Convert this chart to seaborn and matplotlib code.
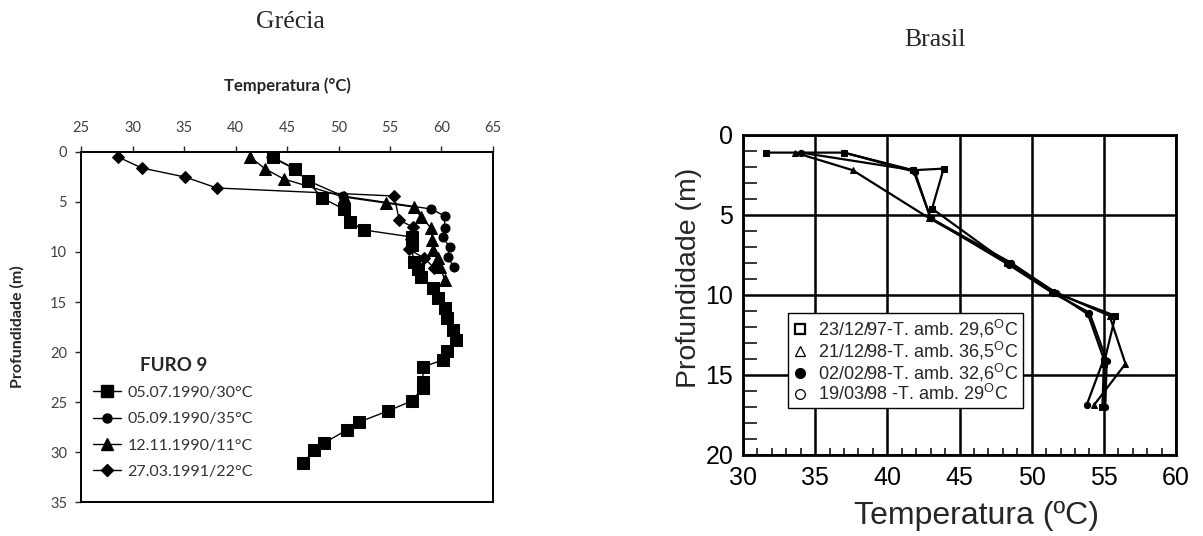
import matplotlib
matplotlib.use("Agg")
import matplotlib.pyplot as plt
import seaborn as sns
import pandas as pd
from matplotlib.lines import Line2D
from matplotlib.ticker import MultipleLocator
from matplotlib.transforms import ScaledTranslation

# ---------------- data: Grécia (FURO 9) ----------------
gr_labels = ["05.07.1990/30°C", "05.09.1990/35°C", "12.11.1990/11°C", "27.03.1991/22°C"]
gr_sq_T = [43.6, 45.8, 47.0, 48.4, 50.5, 51.1, 52.5, 57.1, 57.1, 57.3, 57.7, 58.0, 59.2, 59.7, 60.3,
           60.5, 61.1, 61.4, 60.5, 60.1, 58.2, 58.2, 58.2, 57.1, 54.8, 52.0, 50.8, 48.6, 47.6, 46.6]
gr_sq_d = [0.5, 1.7, 2.9, 4.6, 5.7, 7.0, 7.8, 8.5, 9.3, 11.0, 11.7, 12.5, 13.6, 14.6, 15.6,
           16.6, 17.8, 18.8, 19.9, 20.8, 21.5, 23.0, 23.6, 24.9, 25.9, 27.0, 27.8, 29.1, 29.8, 31.1]
gr_ci_T = [43.4, 45.6, 46.9, 50.4, 59.0, 60.3, 60.3, 60.1, 60.8, 60.6, 61.2]
gr_ci_d = [0.5, 1.6, 2.8, 4.4, 5.7, 6.4, 7.6, 8.5, 9.5, 10.5, 11.5]
gr_tr_T = [41.4, 42.9, 44.7, 50.5, 54.6, 57.3, 58.0, 59.0, 59.1, 59.2, 59.7, 59.9, 60.3]
gr_tr_d = [0.5, 1.7, 2.7, 4.5, 5.1, 5.5, 6.5, 7.6, 8.8, 9.8, 10.6, 11.5, 12.8]
gr_di_T = [28.6, 30.9, 35.1, 38.2, 55.4, 55.9, 57.2, 57.0, 56.8, 58.3, 59.3]
gr_di_d = [0.5, 1.6, 2.5, 3.6, 4.4, 6.8, 7.5, 8.7, 9.7, 10.6, 11.6]

# ---------------- data: Brasil ----------------
br_labels = ["23/12/97-T. amb. 29,6$^{\\mathrm{O}}$C", "21/12/98-T. amb. 36,5$^{\\mathrm{O}}$C",
             "02/02/98-T. amb. 32,6$^{\\mathrm{O}}$C", "19/03/98 -T. amb. 29$^{\\mathrm{O}}$C"]
br_a_T = [31.6, 37.0, 41.8, 43.9, 43.1, 48.3, 51.4, 55.8, 55.0, 54.9]
br_a_d = [1.1, 1.1, 2.2, 2.1, 4.6, 8.0, 9.8, 11.3, 14.3, 17.0]
br_b_T = [33.6, 37.6, 42.9, 48.5, 51.6, 55.4, 56.5, 54.3]
br_b_d = [1.1, 2.2, 5.2, 8.0, 9.8, 11.3, 14.3, 16.9]
br_c_T = [34.0, 41.8, 43.0, 48.4, 51.5, 54.0, 55.2, 55.1]
br_c_d = [1.1, 2.2, 5.2, 8.1, 9.9, 11.1, 14.1, 17.0]
br_d_T = [37.0, 41.9, 43.0, 48.6, 51.7, 53.9, 55.0, 53.8]
br_d_d = [1.1, 2.3, 5.2, 8.0, 9.9, 11.2, 14.0, 16.9]

sns.set_style("ticks")
plt.rcParams["font.family"] = ["Lato", "DejaVu Sans"]
plt.rcParams["mathtext.fontset"] = "custom"
plt.rcParams["mathtext.rm"] = "Liberation Sans"

fig = plt.figure(figsize=(12.03, 5.36), dpi=100)
ax1 = fig.add_axes([81/1203, 1-502/536, 412/1203, 350/536])
ax2 = fig.add_axes([743/1203, 1-455/536, 433/1203, 320/536])

# ---------- left chart ----------
gr_series = [(gr_sq_T, gr_sq_d, "s", 8), (gr_ci_T, gr_ci_d, "o", 6.5),
             (gr_tr_T, gr_tr_d, "^", 8.5), (gr_di_T, gr_di_d, "D", 6)]
for (T, d, m, ms), lab in zip(gr_series, gr_labels):
    df = pd.DataFrame({"T": T, "d": d})
    sns.lineplot(data=df, x="T", y="d", ax=ax1, sort=False, estimator=None, color="black",
                 lw=1, marker=m, markersize=ms, markeredgecolor="black", markerfacecolor="black")
ax1.set_xlim(25, 65)
ax1.set_ylim(35, 0)
ax1.xaxis.tick_top()
ax1.xaxis.set_label_position("top")
ax1.xaxis.set_major_locator(MultipleLocator(5))
ax1.yaxis.set_major_locator(MultipleLocator(5))
ax1.tick_params(axis="x", which="major", direction="out", length=4, width=1, pad=8,
                labelsize=10.5, labelcolor="#404040", top=True, bottom=False)
ax1.tick_params(axis="y", which="major", direction="out", length=4, width=1, pad=6,
                labelsize=10.5, labelcolor="#404040")
for s in ax1.spines.values():
    s.set_color("black")
    s.set_linewidth(1.4)
ax1.set_xlabel("Temperatura (°C)", fontsize=12, fontweight="bold", labelpad=22)
ax1.set_ylabel("Profundidade (m)", fontsize=11.5, fontweight="bold", labelpad=18)
h1 = [Line2D([0], [0], color="black", lw=1, marker=m, markersize=ms)
      for (_, _, m, ms) in gr_series]
leg1 = ax1.legend(h1, gr_labels, title="FURO 9", loc="upper left",
                  bbox_to_anchor=(0.03, 0.415), frameon=False, fontsize=11.5,
                  labelcolor="#333333", handlelength=1.75, handletextpad=0.4,
                  labelspacing=0.76, borderaxespad=0, borderpad=0,
                  title_fontproperties={"weight": "bold", "size": 13.5})
leg1._legend_box.align = "center"

# ---------- right chart ----------
br_series = [(br_a_T, br_a_d, "s"), (br_b_T, br_b_d, "^"), (br_c_T, br_c_d, "o"), (br_d_T, br_d_d, "o")]
for T, d, m in br_series:
    df = pd.DataFrame({"T": T, "d": d})
    sns.lineplot(data=df, x="T", y="d", ax=ax2, sort=False, estimator=None, color="black",
                 lw=1.6, marker=m, markersize=4.5, markeredgecolor="black",
                 markerfacecolor="black")
ax2.set_xlim(30, 60)
ax2.set_ylim(20, 0)
ax2.xaxis.set_major_locator(MultipleLocator(5))
ax2.yaxis.set_major_locator(MultipleLocator(5))
ax2.xaxis.set_minor_locator(MultipleLocator(1))
ax2.yaxis.set_minor_locator(MultipleLocator(1))
ax2.grid(True, which="major", color="black", lw=1.8)
ax2.tick_params(axis="x", which="major", length=0, pad=8, labelsize=18, labelcolor="black")
ax2.tick_params(axis="y", which="major", length=0, pad=7, labelsize=18, labelcolor="black")
ax2.tick_params(axis="x", which="minor", direction="in", length=5, width=1.3, bottom=True)
ax2.tick_params(axis="y", which="minor", direction="in", length=10, width=1.3, left=True)
for s in ax2.spines.values():
    s.set_color("black")
    s.set_linewidth(2)
ax2.set_xlabel("Temperatura (ºC)", fontsize=23, family="Liberation Sans")
ax2.set_ylabel("Profundidade (m)", fontsize=20.5, family="Liberation Sans")
ax2.xaxis.set_label_coords((976-743)/433, (455-501)/320)
ax2.yaxis.set_label_coords((702-743)/433, (455-278)/320)
for lbl in ax2.get_xticklabels() + ax2.get_yticklabels():
    lbl.set_family("Liberation Sans")
xl = ax2.get_xticklabels()
xl[0].set_transform(xl[0].get_transform() + ScaledTranslation(0, -8/100, fig.dpi_scale_trans))

h2 = [Line2D([0], [0], ls="none", marker="s", markersize=7, mfc="white", mec="black", mew=1.6),
      Line2D([0], [0], ls="none", marker="^", markersize=7, mfc="white", mec="black", mew=0.9),
      Line2D([0], [0], ls="none", marker="o", markersize=7, mfc="black", mec="black"),
      Line2D([0], [0], ls="none", marker="o", markersize=7, mfc="white", mec="black", mew=0.9)]
leg2 = ax2.legend(h2, br_labels, loc="upper left", bbox_to_anchor=(0.104, 0.444),
                  frameon=True, fancybox=False, framealpha=1,
                  edgecolor="black", handlelength=0.8, handletextpad=0.6,
                  labelspacing=0.0, borderpad=0.25, borderaxespad=0,
                  prop={"family": "Liberation Sans", "size": 13})
leg2.get_frame().set_linewidth(1)
leg2.set_zorder(10)

fig.text(290/1203, 1-22/536, "Grécia", ha="center", va="center",
         family="Liberation Serif", fontsize=18.5)
fig.text(935/1203, 1-40/536, "Brasil", ha="center", va="center",
         family="Liberation Serif", fontsize=18.5)

fig.savefig("out.png", dpi=100)
